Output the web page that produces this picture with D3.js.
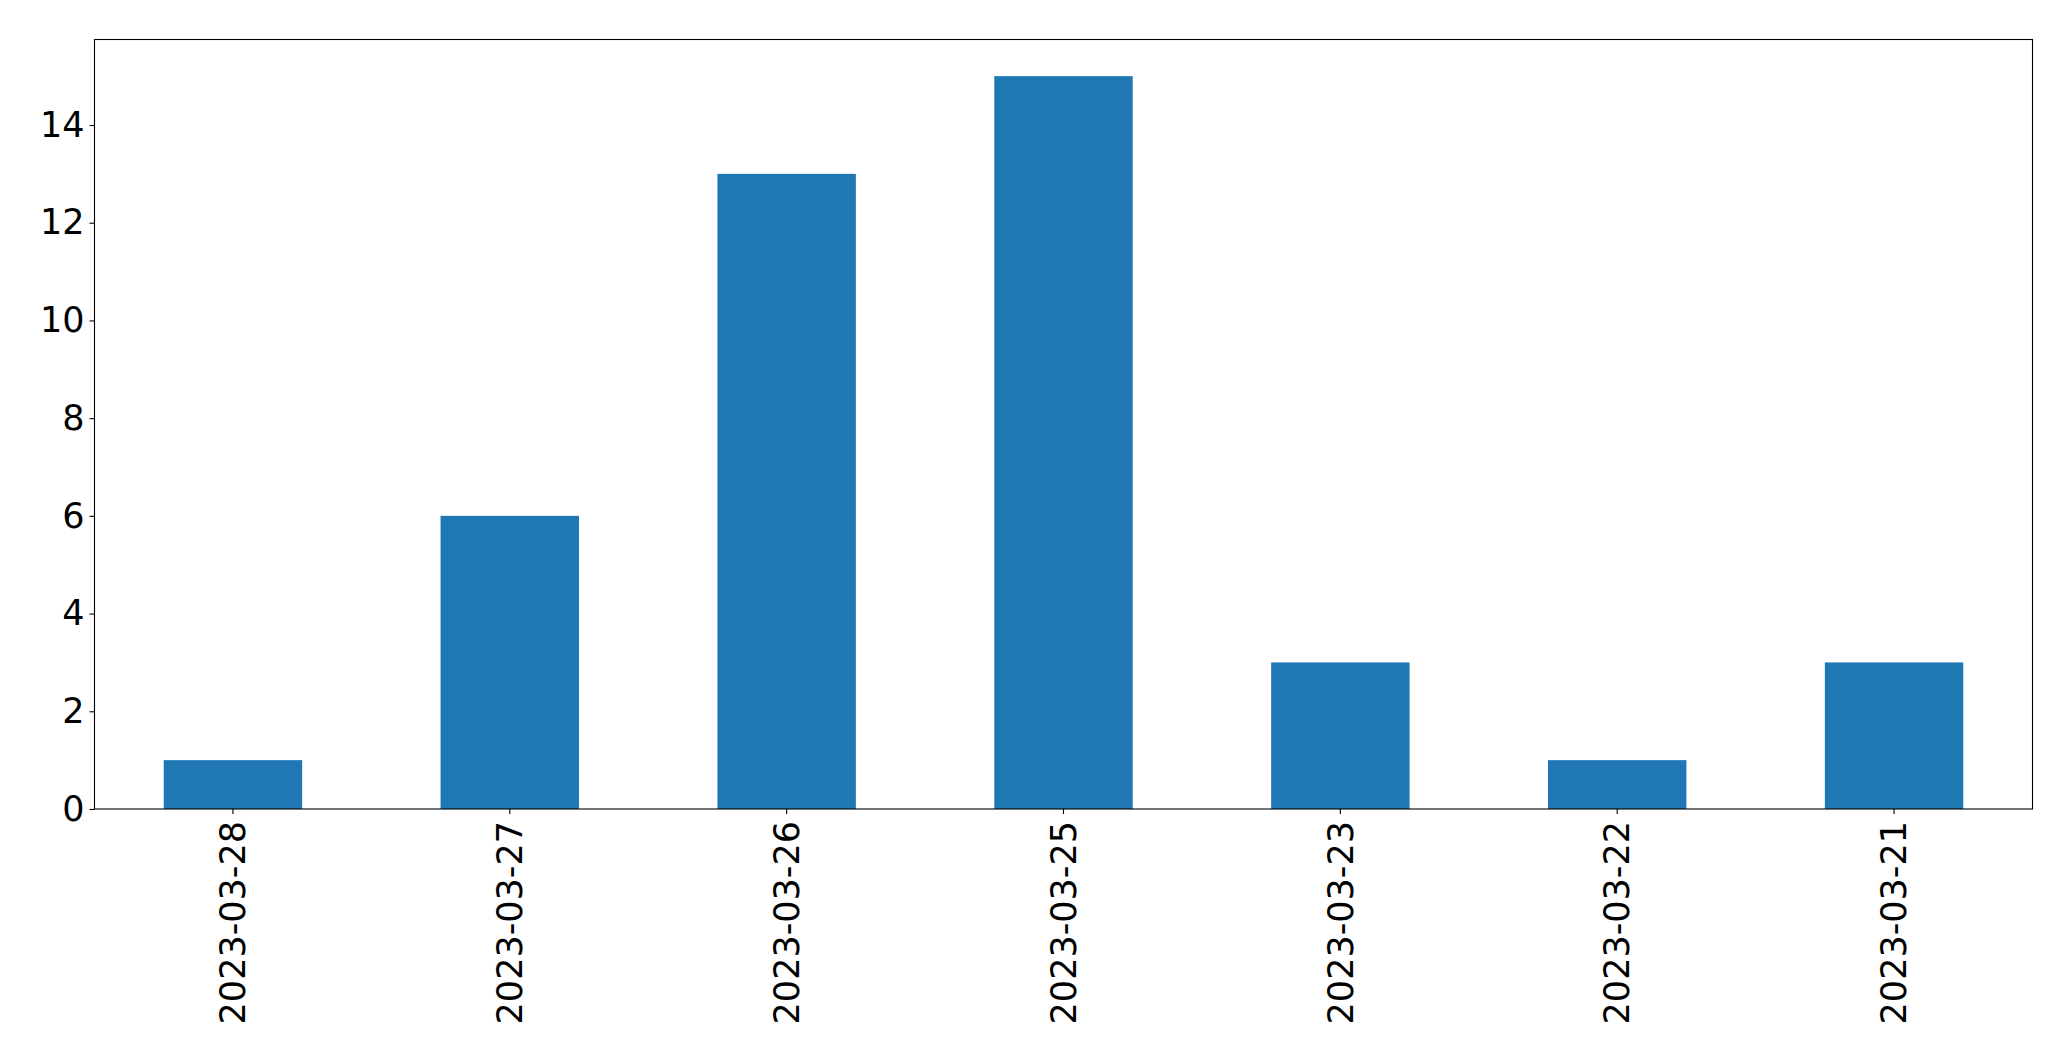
<!DOCTYPE html>
<html><head><meta charset="utf-8">
<script src="https://cdn.jsdelivr.net/npm/d3@7"></script>
<style>body{margin:0;background:#fff}svg{display:block}text{font-family:"DejaVu Sans",sans-serif}</style>
</head><body><svg id="c" width="2071" height="1061"></svg>
<script>
const categories = ["2023-03-28","2023-03-27","2023-03-26","2023-03-25","2023-03-23","2023-03-22","2023-03-21"];
const values = [1, 6, 13, 15, 3, 1, 3];
const yTicks = [0, 2, 4, 6, 8, 10, 12, 14];

const L = 94.5, R = 2032.5, T = 39.5, B = 809;
const svg = d3.select("#c");
const x = d3.scaleBand().domain(categories).range([L, R]).paddingInner(0.5).paddingOuter(0.25);
const y = d3.scaleLinear().domain([0, d3.max(values) * 1.05]).range([B, T]);

svg.append("g").selectAll("rect").data(values).join("rect")
  .attr("x", (d, i) => x(categories[i]))
  .attr("width", x.bandwidth())
  .attr("y", d => y(d))
  .attr("height", d => y(0) - y(d))
  .attr("fill", "#1f77b4");

const fs = 35;
const gy = svg.append("g").attr("transform", `translate(${L},0)`)
  .call(d3.axisLeft(y).tickValues(yTicks).tickSize(5).tickPadding(5).tickFormat(d3.format("d")));
gy.select(".domain").remove();
gy.selectAll("line").attr("stroke", "#000").attr("stroke-width", 1.1);
gy.selectAll("text").attr("font-size", fs).attr("fill", "#000").attr("font-family", "DejaVu Sans");

const gx = svg.append("g").attr("transform", `translate(0,${B})`)
  .call(d3.axisBottom(x).tickSize(5).tickPadding(5));
gx.select(".domain").remove();
gx.selectAll("line").attr("stroke", "#000").attr("stroke-width", 1.1);
gx.selectAll("text").attr("font-size", fs).attr("fill", "#000").attr("font-family", "DejaVu Sans")
  .attr("transform", "rotate(-90)").attr("text-anchor", "end")
  .attr("x", -12).attr("y", 0).attr("dy", "0.35em");

svg.append("rect").attr("x", L).attr("y", T).attr("width", R - L).attr("height", B - T)
  .attr("fill", "none").attr("stroke", "#000").attr("stroke-width", 1.1);
</script></body></html>
